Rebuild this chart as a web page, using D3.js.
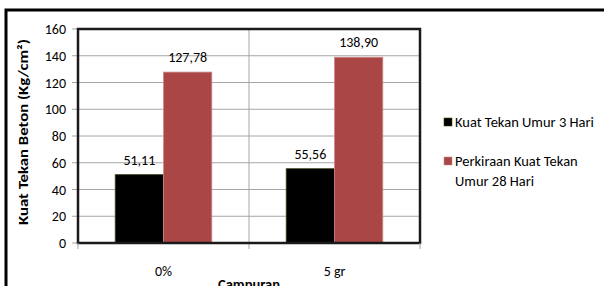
<!DOCTYPE html>
<html>
<head>
<meta charset="utf-8">
<script src="https://cdn.jsdelivr.net/npm/d3@7"></script>
<style>
  body { margin: 0; background: #fff; }
  svg { display: block; font-family: Carlito, Lato, "Open Sans", sans-serif; }
</style>
</head>
<body>
<svg id="chart" width="604" height="286"></svg>
<script>
// data
var categories = ['0%', '5 gr'];
var series = ['Kuat Tekan Umur 3 Hari', 'Perkiraan Kuat Tekan Umur 28 Hari'];
var day3 = [51.11, 55.56];
var day28 = [127.78, 138.90];
var yTicks = [0, 20, 40, 60, 80, 100, 120, 140, 160];

var colors = ['#000000', '#AA4646'];
var strokes = ['#3a4a1a', '#c98a8a'];

var svg = d3.select('#chart');
var pLeft = 78, pTop = 29, pRight = 420, pBottom = 243;
var fs = '14px';

// outer frame
svg.append('rect')
   .attr('x', 6).attr('y', 10)
   .attr('width', 700).attr('height', 400)
   .attr('fill', 'none')
   .attr('stroke', '#000')
   .attr('stroke-width', 3);

var x0 = d3.scaleBand()
    .domain(categories)
    .range([pLeft, pRight]);

var x1 = d3.scaleBand()
    .domain([0, 1])
    .range([0, x0.bandwidth()])
    .paddingOuter(0.77)
    .paddingInner(0);

var y = d3.scaleLinear()
    .domain([0, 160])
    .range([pBottom, pTop]);

// gridlines
svg.append('g')
   .selectAll('line')
   .data(yTicks)
   .enter()
   .append('line')
   .attr('x1', pLeft - 6)
   .attr('x2', pRight)
   .attr('y1', d => y(d))
   .attr('y2', d => y(d))
   .attr('stroke', '#a6a6a6')
   .attr('stroke-width', 1);

// vertical category lines
svg.append('g')
   .selectAll('line')
   .data(categories.slice(1))
   .enter()
   .append('line')
   .attr('x1', d => x0(d))
   .attr('x2', d => x0(d))
   .attr('y1', pTop)
   .attr('y2', pBottom + 6)
   .attr('stroke', '#a6a6a6');

// y axis labels
svg.append('g')
   .selectAll('text')
   .data(yTicks)
   .enter()
   .append('text')
   .text(d => d)
   .attr('x', 66)
   .attr('y', d => y(d) + 5)
   .attr('text-anchor', 'end')
   .attr('font-size', fs)
   .attr('fill', '#000');

// bars
var groups = svg.selectAll('g.cat')
    .data(categories)
    .enter()
    .append('g')
    .attr('class', 'cat')
    .attr('transform', d => 'translate(' + x0(d) + ',0)');

groups.selectAll('rect')
    .data(function(d, i) { return [day3[i], day28[i]]; })
    .enter()
    .append('rect')
    .attr('x', (d, j) => x1(j))
    .attr('y', d => y(d))
    .attr('width', x1.bandwidth())
    .attr('height', d => pBottom - y(d))
    .attr('fill', (d, j) => colors[j])
    .attr('stroke', (d, j) => strokes[j])
    .attr('stroke-width', 0.8);

groups.selectAll('text')
    .data(function(d, i) { return [day3[i], day28[i]]; })
    .enter()
    .append('text')
    .text(d => d.toFixed(2).replace('.', ','))
    .attr('x', (d, j) => x1(j) + x1.bandwidth() / 2)
    .attr('y', d => y(d) - 10)
    .attr('text-anchor', 'middle')
    .attr('font-size', fs)
    .attr('fill', '#000');

// plot frame
svg.append('rect')
   .attr('x', pLeft).attr('y', pTop)
   .attr('width', pRight - pLeft).attr('height', pBottom - pTop)
   .attr('fill', 'none')
   .attr('stroke', '#1a1a1a')
   .attr('stroke-width', 2.5);

// x tick marks
svg.append('g')
   .selectAll('line')
   .data([pLeft, pRight])
   .enter()
   .append('line')
   .attr('x1', d => d).attr('x2', d => d)
   .attr('y1', pBottom).attr('y2', pBottom + 6)
   .attr('stroke', '#a6a6a6');

// x labels
svg.append('g')
   .selectAll('text')
   .data(categories)
   .enter()
   .append('text')
   .text(d => d)
   .attr('x', d => x0(d) + x0.bandwidth() / 2)
   .attr('y', 276)
   .attr('text-anchor', 'middle')
   .attr('font-size', fs);

svg.append('text')
   .text('Campuran')
   .attr('x', 249)
   .attr('y', 289)
   .attr('text-anchor', 'middle')
   .attr('font-weight', 'bold')
   .attr('font-size', '14.5px');

svg.append('text')
   .text('Kuat Tekan Beton (Kg/cm²)')
   .attr('transform', 'translate(28,132) rotate(-90)')
   .attr('text-anchor', 'middle')
   .attr('font-weight', 'bold')
   .attr('font-size', '14.5px')
   .attr('textLength', 186)
   .attr('lengthAdjust', 'spacingAndGlyphs');

// legend
var legendLines = [['Kuat Tekan Umur 3 Hari'], ['Perkiraan Kuat Tekan', 'Umur 28 Hari']];
var legY = [122, 161];
var legend = svg.selectAll('g.leg')
    .data(series)
    .enter()
    .append('g')
    .attr('class', 'leg')
    .attr('transform', (d, i) => 'translate(444,' + legY[i] + ')');

legend.append('rect')
    .attr('x', 0).attr('y', -4)
    .attr('width', 8).attr('height', 8)
    .attr('fill', (d, i) => colors[i])
    .attr('stroke', (d, i) => strokes[i])
    .attr('stroke-width', 0.6);

legend.append('text')
    .attr('font-size', '14.5px')
    .selectAll('tspan')
    .data((d, i) => legendLines[i])
    .enter()
    .append('tspan')
    .attr('x', 11)
    .attr('y', (d, k) => 5 + k * 20)
    .text(d => d);
</script>
</body>
</html>
